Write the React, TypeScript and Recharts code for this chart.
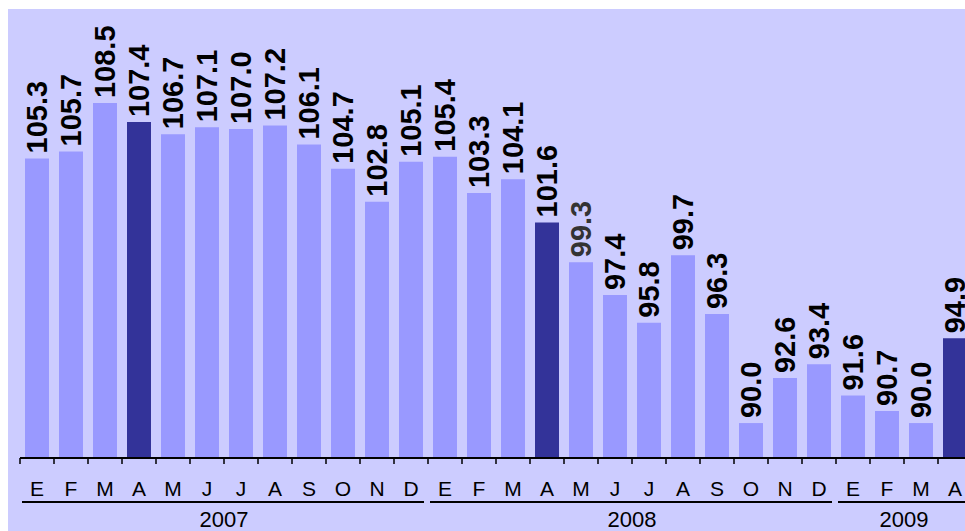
import { Bar, BarChart, Cell, LabelList, XAxis, YAxis } from "recharts";

const years = ["2007", "2008", "2009"];
const monthLetters = ["E", "F", "M", "A", "M", "J", "J", "A", "S", "O", "N", "D"];
const values2007 = [105.3, 105.7, 108.5, 107.4, 106.7, 107.1, 107.0, 107.2, 106.1, 104.7, 102.8, 105.1];
const values2008 = [105.4, 103.3, 104.1, 101.6, 99.3, 97.4, 95.8, 99.7, 96.3, 90.0, 92.6, 93.4];
const values2009 = [91.6, 90.7, 90.0, 94.9];

const valuesByYear = [values2007, values2008, values2009];

const data = years.flatMap((year, yi) =>
  valuesByYear[yi].map((v, mi) => ({
    key: `${year}-${mi}`,
    year,
    mi,
    m: monthLetters[mi],
    v,
  }))
);

// label drawn in grey in the original
const greyLabels = [16];

const BAND = 34;
const FONT = "'Liberation Sans', Arial, sans-serif";

const MonthTick = (props: any) => {
  const { x, y, payload } = props;
  const row = data[payload.index];
  const left = x - BAND / 2;
  let yearMark = null;
  if (row.mi === 0) {
    const n = data.filter((d) => d.year === row.year).length;
    const right = left + n * BAND;
    yearMark = (
      <g>
        <line x1={left + 2} x2={right - 4} y1={y + 44} y2={y + 44} stroke="#000" strokeWidth={2} />
        <text
          x={(left + right) / 2}
          y={y + 69}
          textAnchor="middle"
          fontSize={22}
          fontFamily={FONT}
          fill="#000"
        >
          {row.year}
        </text>
      </g>
    );
  }
  return (
    <g>
      <line x1={left} x2={left} y1={y} y2={y + 6} stroke="#000" strokeWidth={1.5} />
      <text x={x} y={y + 38} textAnchor="middle" fontSize={21} fontFamily={FONT} fill="#000">
        {row.m}
      </text>
      {yearMark}
    </g>
  );
};

const renderLabel = (props: any) => {
  const { x, y, width, value, index } = props;
  const cx = x + width / 2;
  const cy = y - 5;
  return (
    <text
      x={cx}
      y={cy}
      transform={`rotate(-90, ${cx}, ${cy})`}
      textAnchor="start"
      dominantBaseline="central"
      fontSize={29}
      fontWeight="bold"
      fontFamily={FONT}
      fill={greyLabels.includes(index) ? "#333333" : "#000000"}
    >
      {Number(value).toFixed(1)}
    </text>
  );
};

export default function App() {
  return (
    <div
      style={{
        position: "absolute",
        left: 8,
        top: 9,
        width: 957,
        height: 522,
        overflow: "hidden",
        background: "#ccccff",
      }}
    >
      <BarChart
        width={970}
        height={522}
        data={data}
        baseValue={88.1}
        margin={{ top: 10, right: 6, bottom: 0, left: 12 }}
      >
        <XAxis
          dataKey="key"
          interval={0}
          height={73}
          tickSize={0}
          tickMargin={0}
          tickLine={false}
          axisLine={{ stroke: "#000", strokeWidth: 2 }}
          tick={<MonthTick />}
        />
        <YAxis hide type="number" scale="linear" domain={[87.98, 113.36]} />
        <Bar dataKey="v" barSize={24} isAnimationActive={false}>
          {data.map((d) => (
            <Cell key={d.key} fill={d.mi === 3 ? "#333399" : "#9999ff"} />
          ))}
          <LabelList dataKey="v" content={renderLabel} />
        </Bar>
      </BarChart>
    </div>
  );
}
